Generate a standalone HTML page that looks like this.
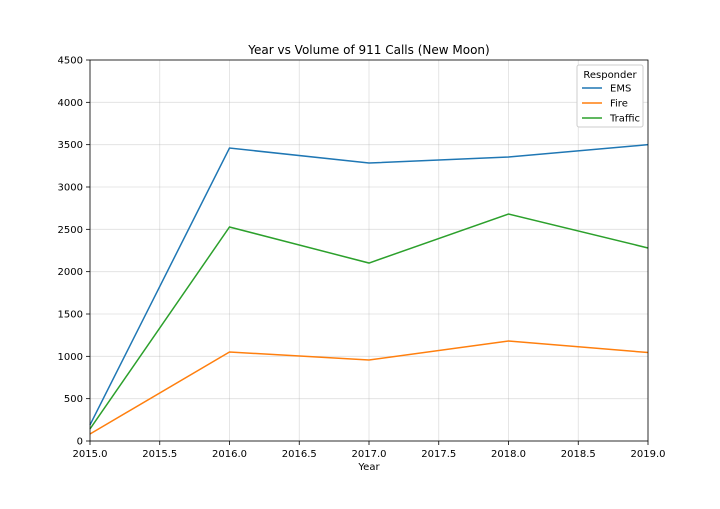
<!DOCTYPE html>
<html><head><meta charset="utf-8">
<style>
body{margin:0;background:#fff;font-family:"Liberation Sans",sans-serif;}
svg text{font-family:"DejaVu Sans","Liberation Sans",sans-serif;}
</style></head>
<body>
<svg id="chart" width="720" height="504" xmlns="http://www.w3.org/2000/svg">
<rect width="720" height="504" fill="#fff"/>
<text x="369" y="54" font-size="12" text-anchor="middle">Year vs Volume of 911 Calls (New Moon)</text>
<g id="grid"></g>
<g id="lines"></g>
<rect x="90" y="60" width="558" height="381" fill="none" stroke="#000" stroke-width="0.8"/>
<g id="ticks"></g>
<text x="369" y="470" font-size="10" text-anchor="middle">Year</text>
<g>
<rect x="577" y="65" width="66" height="62" fill="#fff" stroke="#ccc" rx="2"/>
<text x="610" y="78" font-size="10" text-anchor="middle">Responder</text>
<g id="legend"></g>
</g>
</svg>
<script>
const years=[2015,2016,2017,2018,2019];
const emsValues=[190,3460,3283,3354,3500];
const fireValues=[83,1051,957,1181,1045];
const trafficValues=[142,2528,2102,2681,2280];
const xTicks=[2015.0,2015.5,2016.0,2016.5,2017.0,2017.5,2018.0,2018.5,2019.0];
const yTicks=[0,500,1000,1500,2000,2500,3000,3500,4000,4500];
const seriesNames=["EMS","Fire","Traffic"];
const colors=["#1f77b4","#ff7f0e","#2ca02c"];
const NS="http://www.w3.org/2000/svg";
const X=v=>90+(v-2015)/4*558;
const Y=v=>441-v/4500*381;
const grid=document.getElementById('grid'),ticks=document.getElementById('ticks'),lines=document.getElementById('lines'),leg=document.getElementById('legend');
function mk(tag,attrs,parent){const e=document.createElementNS(NS,tag);for(const k in attrs)e.setAttribute(k,attrs[k]);parent.appendChild(e);return e;}
xTicks.forEach(t=>{const x=X(t);
const g=mk('line',{x1:x,x2:x,y1:60,y2:441,stroke:'#b0b0b0','stroke-width':0.8,'stroke-opacity':0.4},grid);


mk('line',{x1:x,x2:x,y1:441,y2:445,stroke:'#000','stroke-width':0.8},ticks);
const tx=mk('text',{x:x,y:457,'font-size':10,'text-anchor':'middle'},ticks);tx.textContent=t.toFixed(1);

});
yTicks.forEach(t=>{const y=Y(t);
const g=mk('line',{x1:90,x2:648,y1:y,y2:y,stroke:'#b0b0b0','stroke-width':0.8,'stroke-opacity':0.4},grid);


mk('line',{x1:86,x2:90,y1:y,y2:y,stroke:'#000','stroke-width':0.8},ticks);
const tx=mk('text',{x:83,y:y+3.5,'font-size':10,'text-anchor':'end'},ticks);tx.textContent=t;

});
[emsValues,fireValues,trafficValues].forEach((vals,i)=>{
const p=mk('polyline',{points:vals.map((v,j)=>X(years[j])+','+Y(v)).join(' '),fill:'none',stroke:colors[i],'stroke-width':1.5},lines);


const y=88+i*15;
const g=mk('g',{},leg);


mk('line',{x1:582,x2:602,y1:y,y2:y,stroke:colors[i],'stroke-width':1.5},g);
const t=mk('text',{x:610,y:y+3.5,'font-size':10},g);t.textContent=seriesNames[i];});
</script>
</body></html>
